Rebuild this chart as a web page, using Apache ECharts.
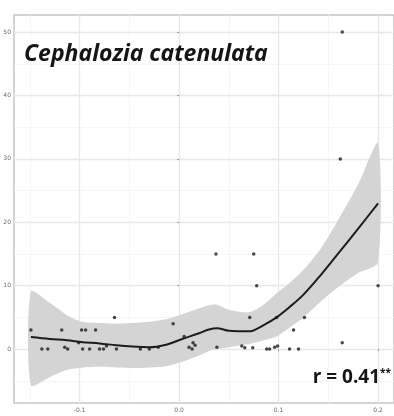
<!DOCTYPE html>
<html><head><meta charset="utf-8">
<script src="https://cdn.jsdelivr.net/npm/echarts@6/dist/echarts.min.js"></script>
<style>html,body{margin:0;padding:0;background:#fff}#c{width:394px;height:416px}</style>
</head><body><div id="c"></div>
<script>
// observed points
const pointsX = [-0.149,-0.138,-0.132,-0.118,-0.115,-0.112,-0.101,-0.098,-0.094,-0.097,-0.090,-0.084,-0.080,-0.076,-0.073,-0.065,-0.063,-0.039,-0.030,-0.021,-0.006,0.005,0.010,0.013,0.016,0.014,0.037,0.038,0.063,0.066,0.071,0.074,0.075,0.078,0.088,0.091,0.096,0.098,0.099,0.111,0.115,0.120,0.126,0.162,0.164,0.164,0.200];
const pointsY = [3,0,0,3,0.3,0,1,3,3,0,0,3,0,0,0.5,5,0,0,0,0.3,4,2,0.3,0,0.6,1,15,0.3,0.5,0.2,5,0.2,15,10,0,0,0.3,5,0.5,0,3,0,5,30,50,1,10];
// smoothed fit and confidence band
const fitX = [-0.149,-0.13,-0.113,-0.097,-0.080,-0.063,-0.047,-0.030,-0.013,0.003,0.020,0.030,0.038,0.050,0.070,0.085,0.098,0.110,0.125,0.143,0.160,0.180,0.200];
const fitY = [1.9,1.6,1.4,1.1,0.9,0.6,0.4,0.3,0.7,1.6,2.5,3.1,3.3,2.9,2.8,3.8,5.0,6.5,8.6,11.8,15.1,19.0,23.0];
const bandLower = [-5.7,-4.4,-3.3,-2.9,-2.8,-2.9,-3.0,-2.9,-2.7,-2.0,-1.0,-0.3,0.0,0.3,0.8,1.4,2.0,3.3,5.0,7.6,9.8,12.0,13.7];
const bandUpper = [9.1,7.3,5.4,4.3,4.1,4.0,4.1,4.3,4.7,5.5,6.4,6.9,7.0,6.2,5.8,7.0,8.8,10.3,12.5,16.0,20.4,26.0,32.5];
// ticks / grid
const xTicks = [-0.1,0,0.1,0.2];
const xMinor = [-0.15,-0.05,0.05,0.15];
const yTicks = [0,10,20,30,40,50];
const yMinor = [-5,5,15,25,35,45];
const titleText = 'Cephalozia catenulata';
const rText = 'r = 0.41';

const chart = echarts.init(document.getElementById('c'), null, {renderer:'canvas'});
const majorStyle = {color:'#e8e8e8', width:1.3, type:'solid'};
const minorStyle = {color:'#f4f4f4', width:0.8, type:'solid'};
const gridLines = []
  .concat(xMinor.map(v=>({xAxis:v, lineStyle:minorStyle})))
  .concat(yMinor.map(v=>({yAxis:v, lineStyle:minorStyle})))
  .concat(xTicks.map(v=>({xAxis:v, lineStyle:majorStyle})))
  .concat(yTicks.map(v=>({yAxis:v, lineStyle:majorStyle})));

chart.setOption({
  animation:false,
  backgroundColor:'#fff',
  title:[
    {text:titleText, left:24, top:43, padding:0,
     textStyle:{fontFamily:'Open Sans', fontSize:23, fontStyle:'italic', fontWeight:'bold', color:'#151515'}},
    {text:'{a|'+rText+'}{b|**}', right:3, top:368, padding:0,
     textStyle:{rich:{
       a:{fontFamily:'Open Sans', fontSize:19, fontWeight:'bold', color:'#151515'},
       b:{fontFamily:'Open Sans', fontSize:10, fontWeight:'bold', color:'#151515', verticalAlign:'top', padding:[0,0,10,0]}
     }}}
  ],
  grid:{left:14, right:-2, top:15, bottom:13, show:true, borderColor:'#c6c6c6', borderWidth:1.5, backgroundColor:'#fff'},
  xAxis:{type:'value', min:-0.166, max:0.216,
    splitLine:{show:false},
    axisLine:{show:false},
    axisTick:{show:true, customValues:xTicks, length:2, lineStyle:{color:'#999'}},
    axisLabel:{customValues:xTicks, formatter:v=>v.toFixed(1), fontSize:6, color:'#666', margin:4, fontFamily:'DejaVu Sans'}
  },
  yAxis:{type:'value', min:-8.5, max:52.7,
    splitLine:{show:false},
    axisLine:{show:false},
    axisTick:{show:true, customValues:yTicks, length:2, lineStyle:{color:'#999'}},
    axisLabel:{customValues:yTicks, formatter:v=>String(v), fontSize:6, color:'#666', margin:3, fontFamily:'DejaVu Sans'}
  },
  series:[
    {type:'line', data:[], z:1, silent:true,
     markLine:{z:0, silent:true, symbol:['none','none'], label:{show:false}, animation:false, data:gridLines}},
    {type:'custom', z:2, silent:true, clip:true,
     data: fitX.map((x,i)=>[x, bandLower[i], bandUpper[i]]),
     renderItem:function(params, api){
       if (params.dataIndex !== 0) return null;
       const pts = [];
       for (let i=0;i<fitX.length;i++) pts.push(api.coord([fitX[i], bandUpper[i]]));
       for (let i=fitX.length-1;i>=0;i--) pts.push(api.coord([fitX[i], bandLower[i]]));
       return {type:'polygon', shape:{points:pts, smooth:0.25}, style:{fill:'#d4d4d4', stroke:null}};
     }},
    {type:'line', z:3, data: fitX.map((x,i)=>[x, fitY[i]]), smooth:0.35, showSymbol:false,
     lineStyle:{color:'#1c1c1c', width:2}},
    {type:'scatter', z:4, data: pointsX.map((x,i)=>[x, pointsY[i]]), symbolSize:3.5,
     itemStyle:{color:'#1c1c1c'}}
  ]
});
</script></body></html>
